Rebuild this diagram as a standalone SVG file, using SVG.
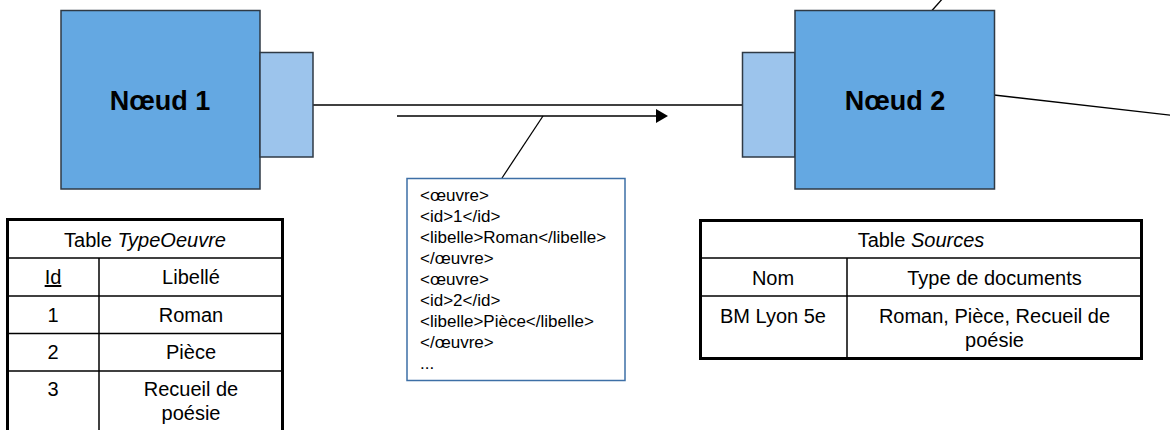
<svg xmlns="http://www.w3.org/2000/svg" width="1170" height="430" viewBox="0 0 1170 430">
  <style>
    .main { fill: #64a8e2; stroke: #2f3a45; stroke-width: 1.5; }
    .port { fill: #9cc4ec; stroke: #2f3a45; stroke-width: 1.5; }
    .label { font-family: "Liberation Sans", Arial, sans-serif; font-size: 27px; font-weight: bold; fill: #000; text-anchor: middle; }
    .wire { stroke: #000; stroke-width: 1.3; fill: none; }
    .xml { font-family: "Liberation Sans", Arial, sans-serif; font-size: 17px; fill: #000; }
    .frame { fill: #fff; stroke: #000; stroke-width: 3; }
    .grid { stroke: #000; stroke-width: 1.5; fill: none; }
    .cell { font-family: "Liberation Sans", Arial, sans-serif; font-size: 20px; fill: #000; text-anchor: middle; }
  </style>

  <!-- links between the two nodes -->
  <g id="connectors">
    <line class="wire" x1="313" y1="105" x2="742.5" y2="105"/>
    <line class="wire" x1="397" y1="116" x2="657" y2="116"/>
    <polygon points="656,109 668,116 656,123" fill="#000"/>
    <line class="wire" x1="543" y1="116" x2="502" y2="178"/>
    <line class="wire" x1="994" y1="95" x2="1172" y2="115.3"/>
    <line class="wire" x1="932" y1="10.5" x2="944" y2="-3"/>
  </g>

  <g id="node1">
    <rect class="main" x="61" y="10.5" width="199" height="178.5"/>
    <rect class="port" x="260" y="52.5" width="53" height="104.5"/>
    <text class="label" x="160" y="110">Nœud 1</text>
  </g>

  <g id="node2">
    <rect class="port" x="742.5" y="52.5" width="52.5" height="104.5"/>
    <rect class="main" x="795" y="10.5" width="199.5" height="178.5"/>
    <text class="label" x="895" y="110">Nœud 2</text>
  </g>

  <!-- XML message carried by the arrow -->
  <g id="message">
    <rect x="407" y="178.5" width="218" height="202" fill="#fff" stroke="#3d6fa6" stroke-width="1.5"/>
    <text class="xml" x="420" y="201">&lt;œuvre&gt;</text>
    <text class="xml" x="420" y="222">&lt;id&gt;1&lt;/id&gt;</text>
    <text class="xml" x="420" y="243">&lt;libelle&gt;Roman&lt;/libelle&gt;</text>
    <text class="xml" x="420" y="264">&lt;/œuvre&gt;</text>
    <text class="xml" x="420" y="285">&lt;œuvre&gt;</text>
    <text class="xml" x="420" y="306">&lt;id&gt;2&lt;/id&gt;</text>
    <text class="xml" x="420" y="327">&lt;libelle&gt;Pièce&lt;/libelle&gt;</text>
    <text class="xml" x="420" y="348">&lt;/œuvre&gt;</text>
    <text class="xml" x="420" y="369">...</text>
  </g>

  <!-- table stored on node 1 -->
  <g id="table-typeoeuvre">
    <rect class="frame" x="7.5" y="219.5" width="275" height="215"/>
    <line class="grid" x1="7.5" y1="258" x2="282.5" y2="258"/>
    <line class="grid" x1="7.5" y1="296" x2="282.5" y2="296"/>
    <line class="grid" x1="7.5" y1="333.5" x2="282.5" y2="333.5"/>
    <line class="grid" x1="7.5" y1="371" x2="282.5" y2="371"/>
    <line class="grid" x1="99" y1="258" x2="99" y2="434"/>
    <text class="cell" x="145" y="247">Table <tspan font-style="italic">TypeOeuvre</tspan></text>
    <text class="cell" x="53" y="284" text-decoration="underline">Id</text>
    <text class="cell" x="191" y="284">Libellé</text>
    <text class="cell" x="53" y="321.5">1</text>
    <text class="cell" x="191" y="321.5">Roman</text>
    <text class="cell" x="53" y="358.5">2</text>
    <text class="cell" x="191" y="358.5">Pièce</text>
    <text class="cell" x="53" y="396">3</text>
    <text class="cell" x="191" y="396">Recueil de</text>
    <text class="cell" x="191" y="420">poésie</text>
  </g>

  <!-- table stored on node 2 -->
  <g id="table-sources">
    <rect class="frame" x="700.5" y="220.5" width="441" height="138"/>
    <line class="grid" x1="700.5" y1="258" x2="1141.5" y2="258"/>
    <line class="grid" x1="700.5" y1="296" x2="1141.5" y2="296"/>
    <line class="grid" x1="847" y1="258" x2="847" y2="358.5"/>
    <text class="cell" x="921" y="247">Table <tspan font-style="italic">Sources</tspan></text>
    <text class="cell" x="773" y="285">Nom</text>
    <text class="cell" x="994.5" y="285">Type de documents</text>
    <text class="cell" x="773" y="323">BM Lyon 5e</text>
    <text class="cell" x="994.5" y="323">Roman, Pièce, Recueil de</text>
    <text class="cell" x="994.5" y="347">poésie</text>
  </g>
</svg>
